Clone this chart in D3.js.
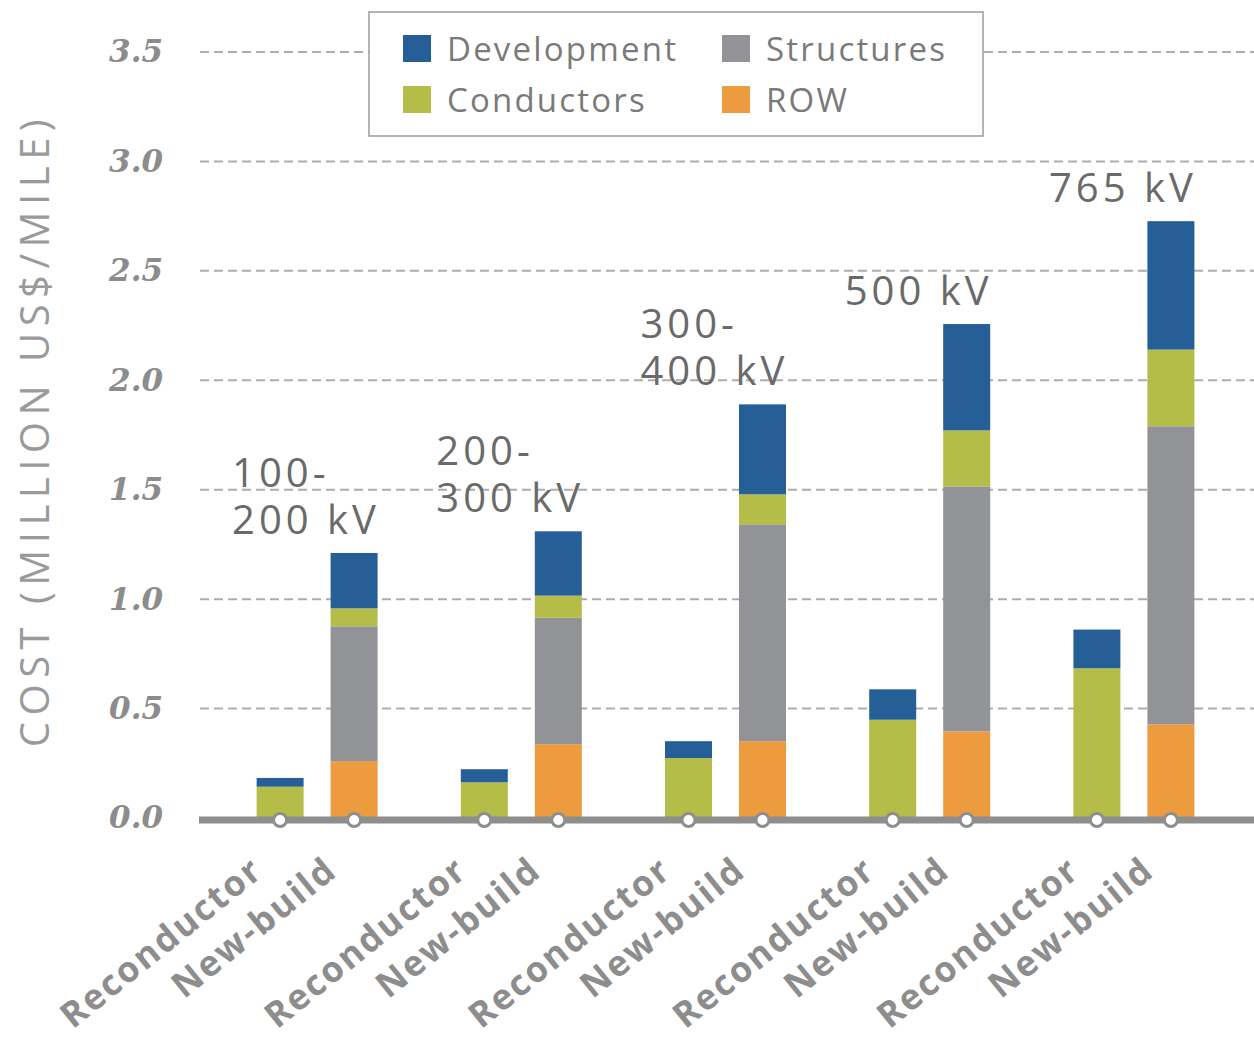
<!DOCTYPE html>
<html>
<head>
<meta charset="utf-8">
<script src="https://cdn.jsdelivr.net/npm/d3@7"></script>
<style>
  html, body { margin: 0; padding: 0; background: #fff; }
  svg { display: block; }
</style>
</head>
<body>
<svg id="chart" width="1254" height="1040"></svg>
<script>
// Voltage classes and line types
const voltageClasses = ["100-200 kV", "200-300 kV", "300-400 kV", "500 kV", "765 kV"];
const voltageLabelLines = [["100-", "200 kV"], ["200-", "300 kV"], ["300-", "400 kV"], ["500 kV"], ["765 kV"]];
const lineTypes = ["Reconductor", "New-build"];

// Cost components (million US$/mile), one value per voltage class x line type
const development = [0.040, 0.253, 0.060, 0.294, 0.077, 0.411, 0.139, 0.486, 0.177, 0.587];
const conductors  = [0.143, 0.082, 0.163, 0.101, 0.274, 0.137, 0.449, 0.256, 0.684, 0.350];
const structures  = [0.000, 0.616, 0.000, 0.578, 0.000, 0.991, 0.000, 1.119, 0.000, 1.362];
const rightOfWay  = [0.000, 0.260, 0.000, 0.337, 0.000, 0.351, 0.000, 0.396, 0.000, 0.428];

const yTicks = [0, 0.5, 1.0, 1.5, 2.0, 2.5, 3.0, 3.5];

const seriesKeys = ["ROW", "Structures", "Conductors", "Development"];
const colors = {
  Development: "#265f97",
  Structures: "#929397",
  Conductors: "#b5bd49",
  ROW: "#ec9b3f"
};

// Build rows for the stack layout
const rows = [];
voltageClasses.forEach((v, gi) => {
  lineTypes.forEach((t, ti) => {
    const i = gi * 2 + ti;
    rows.push({
      group: v, type: t,
      Development: development[i],
      Conductors: conductors[i],
      Structures: structures[i],
      ROW: rightOfWay[i]
    });
  });
});

const svg = d3.select("#chart");

const y = d3.scaleLinear().domain([0, 3.5]).range([818, 52]);
const x0 = d3.scaleBand().domain(voltageClasses).range([215, 1236]).padding(0);
const x1 = d3.scalePoint().domain(lineTypes).range([-37, 37]);
const barW = 47;
const cx = d => x0(d.group) + x0.bandwidth() / 2 + x1(d.type);

// Dashed gridlines
svg.append("g")
  .selectAll("line")
  .data(yTicks.filter(t => t > 0))
  .join("line")
  .attr("x1", 200).attr("x2", 1254)
  .attr("y1", d => y(d)).attr("y2", d => y(d))
  .attr("stroke", "#adadad")
  .attr("stroke-width", 2)
  .attr("stroke-dasharray", "9,5");

// Y axis tick labels
const yAxis = d3.axisLeft(y).tickValues(yTicks).tickFormat(d3.format(".1f")).tickSize(0).tickPadding(0);
const yg = svg.append("g").attr("transform", "translate(163,0)").call(yAxis);
yg.select(".domain").remove();
yg.selectAll("text")
  .attr("font-family", "'DejaVu Serif', serif")
  .attr("font-style", "italic")
  .attr("font-weight", "bold")
  .attr("font-size", 31)
  .attr("fill", "#8c8c8c");

// Y axis title
svg.append("text")
  .attr("transform", "translate(49,430) rotate(-90)")
  .attr("text-anchor", "middle")
  .attr("font-family", "'Open Sans', sans-serif")
  .attr("font-size", 40)
  .attr("letter-spacing", 6.5)
  .attr("fill", "#9a9a9a")
  .text("COST (MILLION US$/MILE)");

// Stacked bars
const stacked = d3.stack().keys(seriesKeys)(rows);
svg.append("g")
  .selectAll("g")
  .data(stacked)
  .join("g")
  .attr("fill", s => colors[s.key])
  .selectAll("rect")
  .data(s => s.filter(p => p[1] - p[0] > 0))
  .join("rect")
  .attr("x", p => cx(p.data) - barW / 2)
  .attr("width", barW)
  .attr("y", p => y(p[1]))
  .attr("height", p => y(p[0]) - y(p[1]));

// Baseline with tick circles
svg.append("line")
  .attr("x1", 199).attr("x2", 1254)
  .attr("y1", 820).attr("y2", 820)
  .attr("stroke", "#8e8e8e")
  .attr("stroke-width", 7);
svg.append("g")
  .selectAll("circle")
  .data(rows)
  .join("circle")
  .attr("cx", d => cx(d))
  .attr("cy", 820)
  .attr("r", 6.5)
  .attr("fill", "#fff")
  .attr("stroke", "#8e8e8e")
  .attr("stroke-width", 3);

// Rotated category labels
svg.append("g")
  .selectAll("text")
  .data(rows)
  .join("text")
  .attr("transform", d => `translate(${cx(d) - 15},874) rotate(-39)`)
  .attr("text-anchor", "end")
  .attr("font-family", "'Open Sans', sans-serif")
  .attr("font-weight", 700)
  .attr("font-size", 35.5)
  .attr("letter-spacing", 2)
  .attr("fill", "#8d8d8d")
  .text(d => d.type);

// Voltage class labels above each group, one text per line
const totals = rows.filter(r => r.type === "New-build")
  .map(r => r.Development + r.Conductors + r.Structures + r.ROW);
const vg = svg.append("g")
  .attr("font-family", "'Open Sans', sans-serif")
  .attr("font-size", 40)
  .attr("letter-spacing", 4)
  .attr("fill", "#6a6a6a");
voltageClasses.forEach((v, gi) => {
  const lines = voltageLabelLines[gi];
  const lastBase = y(totals[gi]) - 19;
  const left = x0(v) + x0.bandwidth() / 2 - 85;
  lines.forEach((ln, li) => {
    vg.append("text")
      .attr("x", left)
      .attr("y", lastBase - (lines.length - 1 - li) * 47)
      .text(ln);
  });
});

// Legend
const legend = svg.append("g");
legend.append("rect")
  .attr("x", 369).attr("y", 12)
  .attr("width", 614).attr("height", 124)
  .attr("fill", "#fff")
  .attr("stroke", "#9c9c9c")
  .attr("stroke-width", 1.5);
const legendItems = [
  { key: "Development", col: 0, row: 0 },
  { key: "Structures", col: 1, row: 0 },
  { key: "Conductors", col: 0, row: 1 },
  { key: "ROW", col: 1, row: 1 }
];
const li = legend.selectAll("g.item")
  .data(legendItems)
  .join("g")
  .attr("class", "item")
  .attr("transform", d => `translate(${403 + d.col * 319},${35 + d.row * 51})`);
li.append("rect")
  .attr("width", 28).attr("height", 27)
  .attr("fill", d => colors[d.key]);
li.append("text")
  .attr("x", 44).attr("y", 26)
  .attr("font-family", "'Open Sans', sans-serif")
  .attr("font-size", 33)
  .attr("letter-spacing", 2.2)
  .attr("fill", "#7a7a7a")
  .text(d => d.key);
</script>
</body>
</html>
